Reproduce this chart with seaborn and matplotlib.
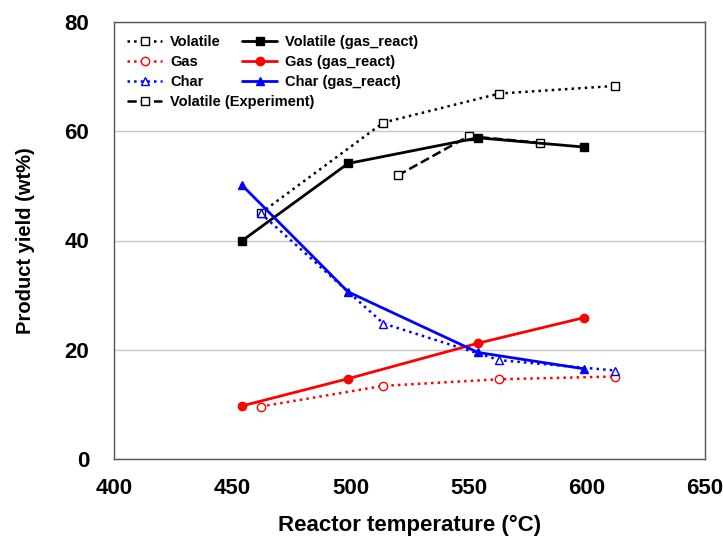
import matplotlib
matplotlib.use("Agg")
import matplotlib.pyplot as plt
import seaborn as sns
import pandas as pd

# Model (dotted) series
t_model = [462, 514, 563, 612]
volatile = [45.0, 61.6, 66.9, 68.3]
gas = [9.6, 13.4, 14.6, 15.1]
char = [45.0, 24.8, 18.1, 16.2]

# Model with gas reactions (solid)
t_react = [454, 499, 554, 599]
volatile_react = [39.9, 54.1, 58.8, 57.1]
gas_react = [9.7, 14.7, 21.2, 25.9]
char_react = [50.2, 30.6, 19.5, 16.5]

# Experiment
t_exp = [520, 550, 580]
volatile_exp = [51.9, 59.1, 57.9]

x_ticks = [400, 450, 500, 550, 600, 650]
y_ticks = [0, 20, 40, 60, 80]

sns.set_style("white")
plt.rcParams['font.family'] = ['Liberation Sans', 'DejaVu Sans']
plt.rcParams['text.color'] = 'black'
plt.rcParams['axes.labelcolor'] = 'black'
plt.rcParams['xtick.color'] = 'black'
plt.rcParams['ytick.color'] = 'black'

fig = plt.figure(figsize=(7.23, 5.40), dpi=100)
ax = fig.add_axes([114/723, 1-459/540, (705-114)/723, (459-22)/540])

def draw(x, y, label, color, ls, marker, filled, ms):
    df = pd.DataFrame({"x": x, "y": y})
    sns.lineplot(data=df, x="x", y="y", ax=ax, sort=False, color=color,
                 linestyle=ls, marker=marker, markersize=ms, label=label,
                 linewidth=2.0 if ls == '-' else 1.8,
                 markerfacecolor=color if filled else 'white',
                 markeredgecolor=color, markeredgewidth=1.0)

draw(t_model, volatile, "Volatile", "black", ':', 's', False, 5.5)
draw(t_model, gas, "Gas", "red", ':', 'o', False, 6)
draw(t_model, char, "Char", "blue", ':', '^', False, 6)
draw(t_exp, volatile_exp, "Volatile (Experiment)", "black", '--', 's', False, 5.5)
draw(t_react, volatile_react, "Volatile (gas_react)", "black", '-', 's', True, 5.5)
draw(t_react, gas_react, "Gas (gas_react)", "red", '-', 'o', True, 6)
draw(t_react, char_react, "Char (gas_react)", "blue", '-', '^', True, 6)

ax.set_xlim(400, 650)
ax.set_ylim(0, 80)
ax.set_xticks(x_ticks)
ax.set_yticks(y_ticks)
ax.yaxis.grid(True, color='#c8c8c8', linewidth=1.0)
ax.set_axisbelow(True)
for s in ax.spines.values():
    s.set_color('#555555')
    s.set_linewidth(1.0)
ax.tick_params(axis='x', direction='in', length=5, width=0.8, color='#555555',
               labelcolor='black', pad=14, labelsize=16)
ax.tick_params(axis='y', length=0, pad=18, labelsize=16, labelcolor='black')
for lab in ax.get_xticklabels() + ax.get_yticklabels():
    lab.set_fontweight('bold')

ax.set_xlabel("Reactor temperature (°C)", fontsize=16, fontweight='bold',
              labelpad=11, color='black')
ax.set_ylabel("Product yield (wt%)", fontsize=14.5, fontweight='bold',
              labelpad=21, color='black')

handles, labels = ax.get_legend_handles_labels()
common = dict(frameon=False, prop={'weight': 'bold', 'size': 10.5},
              handlelength=2.4, handletextpad=0.55, labelspacing=0.4,
              loc='upper left', labelcolor='black')
leg1 = ax.legend(handles[:4], labels[:4], bbox_to_anchor=(0.0, 1.0), **common)
ax.add_artist(leg1)
leg2 = ax.legend(handles[4:], labels[4:], bbox_to_anchor=(0.195, 1.0), **common)

fig.savefig("out.png", dpi=100)
